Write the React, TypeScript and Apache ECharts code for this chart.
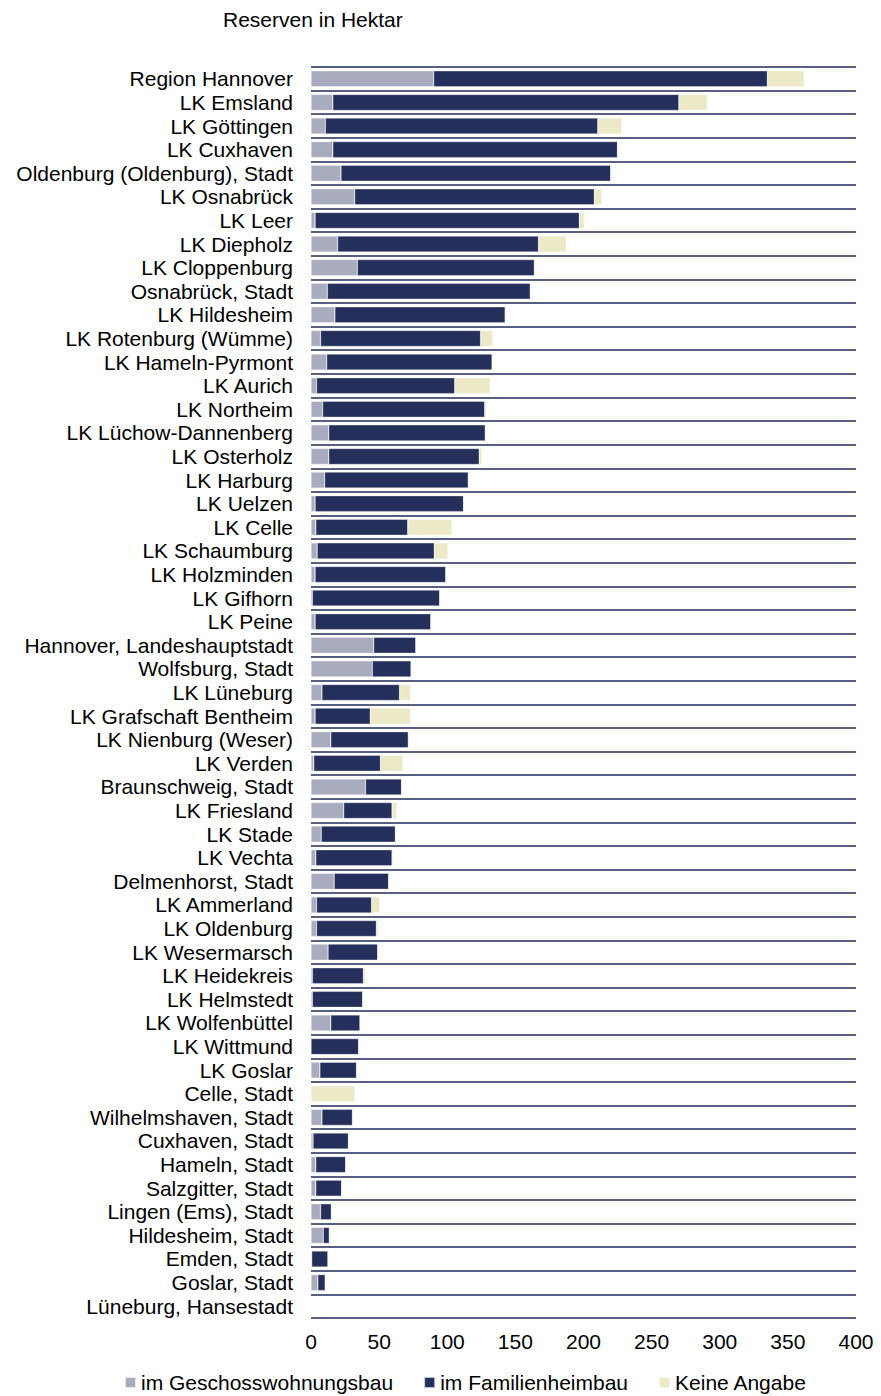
import React, { useEffect, useRef } from "react";
import * as echarts from "echarts";

const categories = [
  "Region Hannover", "LK Emsland", "LK Göttingen", "LK Cuxhaven", "Oldenburg (Oldenburg), Stadt",
  "LK Osnabrück", "LK Leer", "LK Diepholz", "LK Cloppenburg", "Osnabrück, Stadt",
  "LK Hildesheim", "LK Rotenburg (Wümme)", "LK Hameln-Pyrmont", "LK Aurich", "LK Northeim",
  "LK Lüchow-Dannenberg", "LK Osterholz", "LK Harburg", "LK Uelzen", "LK Celle",
  "LK Schaumburg", "LK Holzminden", "LK Gifhorn", "LK Peine", "Hannover, Landeshauptstadt",
  "Wolfsburg, Stadt", "LK Lüneburg", "LK Grafschaft Bentheim", "LK Nienburg (Weser)", "LK Verden",
  "Braunschweig, Stadt", "LK Friesland", "LK Stade", "LK Vechta", "Delmenhorst, Stadt",
  "LK Ammerland", "LK Oldenburg", "LK Wesermarsch", "LK Heidekreis", "LK Helmstedt",
  "LK Wolfenbüttel", "LK Wittmund", "LK Goslar", "Celle, Stadt", "Wilhelmshaven, Stadt",
  "Cuxhaven, Stadt", "Hameln, Stadt", "Salzgitter, Stadt", "Lingen (Ems), Stadt", "Hildesheim, Stadt",
  "Emden, Stadt", "Goslar, Stadt", "Lüneburg, Hansestadt",
];

const geschoss = [
  90, 16, 10.5, 16, 22, 32, 3, 19.5, 34, 12,
  17.5, 7, 11.5, 4, 8.5, 13, 13, 10, 3, 3.5,
  4.5, 3, 1, 3, 46, 45, 8, 3, 14.5, 2,
  40, 24, 7.5, 3.5, 17, 4, 4, 12.5, 1, 1,
  14.5, 0, 6.5, 0, 8, 1.5, 3.5, 3.5, 7, 9,
  0.5, 5, 0,
];

const familie = [
  245, 254, 200, 209, 198, 176, 194, 147.5, 130, 149,
  125, 117.5, 121.5, 101.5, 119, 115, 110.5, 105.5, 109, 67.5,
  86, 96, 93.5, 85, 31, 28.5, 57, 40.5, 57, 49,
  26.5, 35.5, 54.5, 56, 40, 40.5, 44, 36.5, 37.5, 37,
  21.5, 35, 27, 0, 22.5, 26, 22, 19, 8, 4.5,
  12, 5.5, 0,
];

const keine = [
  27, 21, 17.5, 0, 0, 5.5, 3.5, 20.5, 0, 0,
  1, 9, 0, 26, 1, 0, 2, 0, 0, 32.5,
  10, 0, 0, 0, 0, 0, 8, 29.5, 0, 16.5,
  0, 3.5, 0, 1, 0, 6, 1.5, 0, 1.5, 0,
  0, 0, 0, 32, 0, 0, 0, 0, 0, 0,
  0, 0, 0,
];

const xTicks = { min: 0, max: 400, interval: 50 };

const seriesNames = ["im Geschosswohnungsbau", "im Familienheimbau", "Keine Angabe"];
const seriesColors = ["#a9abbe", "#252f5b", "#ece9c7"];

export default function App() {
  const ref = useRef<HTMLDivElement>(null);

  useEffect(() => {
    document.body.style.margin = "0";
    if (!ref.current) return;
    const chart = echarts.init(ref.current, undefined, { renderer: "svg" });
    const font = "Arial, 'Liberation Sans', sans-serif";
    const dataSets = [geschoss, familie, keine];
    chart.setOption({
      animation: false,
      backgroundColor: "#ffffff",
      title: {
        text: "Reserven in Hektar",
        left: 218,
        top: 4,
        textStyle: { fontFamily: font, fontSize: 21, fontWeight: "normal", color: "#000" },
      },
      legend: {
        top: 1372,
        left: 124,
        padding: 0,
        icon: "rect",
        itemWidth: 11,
        itemHeight: 11,
        itemGap: 30,
        textStyle: { fontFamily: font, fontSize: 21, color: "#000" },
        data: seriesNames,
      },
      grid: { left: 311, right: 25, top: 67, bottom: 78, containLabel: false },
      xAxis: {
        type: "value",
        min: xTicks.min,
        max: xTicks.max,
        interval: xTicks.interval,
        axisLine: { show: false },
        axisTick: { show: false },
        splitLine: { show: false },
        axisLabel: { fontFamily: font, fontSize: 21, color: "#000", margin: 13 },
      },
      yAxis: {
        type: "category",
        inverse: true,
        data: categories,
        axisLine: { show: false },
        axisTick: { show: false },
        splitLine: { show: true, interval: 0, lineStyle: { color: "#575f83", width: 2 } },
        axisLabel: { fontFamily: font, fontSize: 21, color: "#000", margin: 18, interval: 0 },
      },
      series: seriesNames.map((name, i) => ({
        name,
        type: "bar",
        stack: "total",
        barCategoryGap: "32%",
        data: dataSets[i],
        itemStyle: { color: seriesColors[i], borderColor: "rgba(255,255,255,0.7)", borderWidth: 0.5 },
      })),
    });
    return () => chart.dispose();
  }, []);

  return <div ref={ref} style={{ width: 881, height: 1396 }} />;
}
